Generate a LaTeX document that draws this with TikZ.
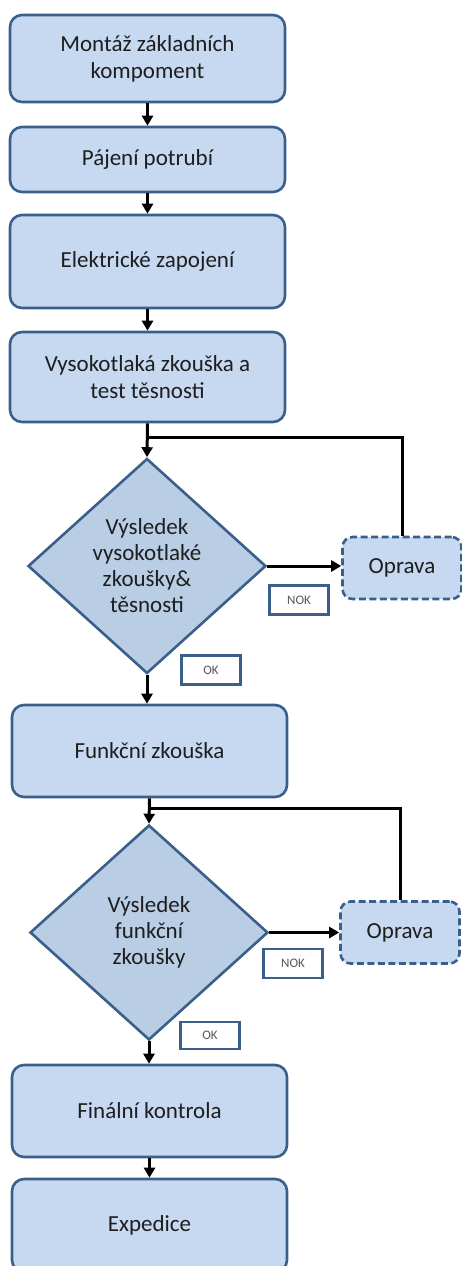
\documentclass[tikz,border=0pt]{standalone}
\usepackage{fontspec}
\setmainfont{Carlito}
\usetikzlibrary{shapes.geometric,arrows.meta}
\definecolor{boxfill}{HTML}{C6D9F1}
\definecolor{decfill}{HTML}{B9CDE5}
\definecolor{boxline}{HTML}{3A5F8B}
\definecolor{txt}{HTML}{1E1E1E}
\begin{document}
\begin{tikzpicture}[x=1pt,y=-1pt,
  stepbox/.style={draw=boxline, line width=2.6pt, fill=boxfill, rounded corners=12pt,
    minimum width=275pt, align=center, text=txt,
    font=\fontsize{23}{27}\selectfont},
  decision/.style={diamond, draw=boxline, line width=2.6pt, fill=decfill,
    minimum width=238pt, minimum height=215pt, inner sep=0pt, align=center, text=txt,
    font=\fontsize{23}{26}\selectfont},
  repairbox/.style={draw=boxline, line width=2.6pt, fill=boxfill, rounded corners=10pt,
    dash pattern=on 7pt off 3.5pt, minimum width=119pt, minimum height=62pt, text=txt,
    font=\fontsize{23}{27}\selectfont},
  tagbox/.style={draw=boxline, line width=2.6pt, fill=white, minimum width=59pt,
    minimum height=29pt, inner sep=0pt, text=black!65, font=\fontsize{13}{15}\selectfont},
  flow/.style={line width=3pt, -{Triangle[length=10pt,width=11pt]}},
  link/.style={line width=3pt}]
\useasboundingbox (0,0) rectangle (462,1266);

% main sequence
\node[stepbox, minimum height=87pt] (b1) at (147.5,58.5) {Montáž základních\\kompoment};
\node[stepbox, minimum height=65pt] (b2) at (147.5,159.5) {Pájení potrubí};
\node[stepbox, minimum height=93pt] (b3) at (147.5,261.5) {Elektrické zapojení};
\node[stepbox, minimum height=90pt] (b4) at (147.5,377) {Vysokotlaká zkouška a\\test těsnosti};
\node[decision] (d1) at (147,566) {Výsledek\\vysokotlaké\\zkoušky\&\\těsnosti};
\node[repairbox] (r1) at (402,568) {Oprava};
\node[tagbox] (nok1) at (299,600) {NOK};
\node[tagbox] (ok1) at (211,670) {OK};

\node[stepbox, minimum height=92pt] (b5) at (149.5,751) {Funkční zkouška};
\node[decision] (d2) at (149,932.5) {Výsledek\\funkční\\zkoušky};
\node[repairbox] (r2) at (400,932.5) {Oprava};
\node[tagbox] (nok2) at (293,963.5) {NOK};
\node[tagbox, minimum height=27pt] (ok2) at (210,1035.5) {OK};

\node[stepbox, minimum height=92pt] (b6) at (149.5,1111) {Finální kontrola};
\node[stepbox, minimum height=93pt] (b7) at (149.5,1225.5) {Expedice};

% junctions of the repair loops
\coordinate (j1) at (b4.south |- 0,437);
\coordinate (j2) at (b5.south |- 0,808);

% connectors
\draw[flow] (b1.south) -- (b2.north);
\draw[flow] (b2.south) -- (b3.north);
\draw[flow] (b3.south) -- (b4.north);
\draw[flow] (b4.south) -- (d1.north);
\draw[flow] (d1.east) -- (d1.east -| r1.west);
\draw[link] (r1.north) |- (j1);
\draw[flow] (d1.south) -- (d1.south |- b5.north);
\draw[flow] (b5.south) -- (d2.north);
\draw[flow] (d2.east) -- (d2.east -| r2.west);
\draw[link] (r2.north) |- (j2);
\draw[flow] (d2.south) -- (d2.south |- b6.north);
\draw[flow] (b6.south) -- (b7.north);
\end{tikzpicture}
\end{document}
